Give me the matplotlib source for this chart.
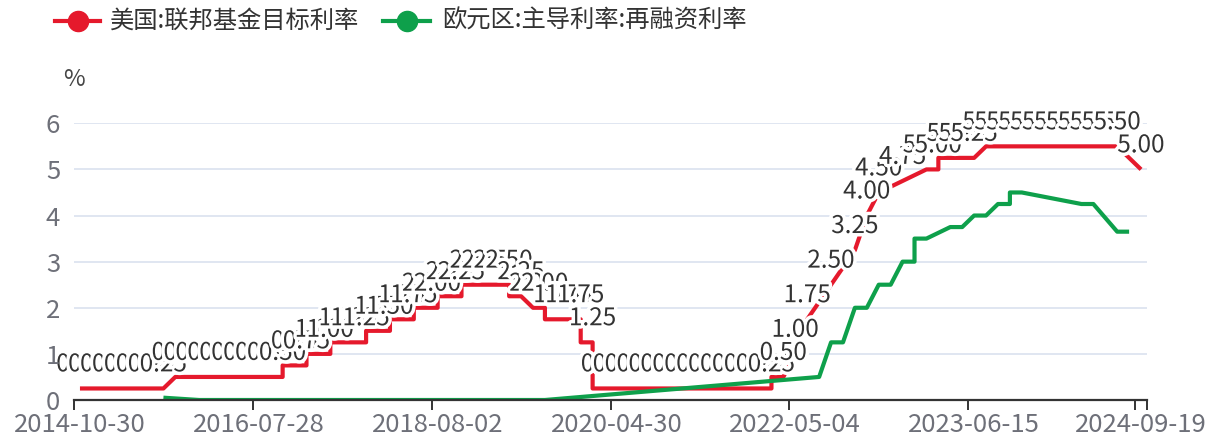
import matplotlib.pyplot as plt
import matplotlib.patheffects as pe
from matplotlib.lines import Line2D

plt.rcParams['font.family'] = ['Noto Sans CJK SC', 'DejaVu Sans']

W, H = 1213, 437

# category axis: 90 release dates, only some of them labelled
n_cat = 90
tick_idx = [0, 15, 30, 45, 60, 75, 89]
tick_labels = ['2014-10-30', '2016-07-28', '2018-08-02', '2020-04-30',
               '2022-05-04', '2023-06-15', '2024-09-19']

# 美国:联邦基金目标利率 (category position, rate)
us_pos = [0, 1, 2, 3, 4, 5, 6, 7,
          8, 9, 10, 11, 12, 13, 14, 15, 16, 17,
          17, 18, 19,
          19, 20, 21,
          21, 22, 23, 24,
          24, 25, 26,
          26, 27, 28,
          28, 29, 30,
          30, 31, 32,
          32, 33, 34, 35, 36,
          36, 37,
          38, 39,
          39, 40, 41, 42,
          42, 43,
          43, 44, 45, 46, 47, 48, 49, 50, 51, 52, 53, 54, 55, 56, 57, 58,
          58, 59,
          60,
          61,
          63,
          65,
          66,
          67,
          69,
          71, 72,
          72, 73, 74, 75,
          76, 77, 78, 79, 80, 81, 82, 83, 84, 85, 86, 87,
          89]
us_rate = [0.25, 0.25, 0.25, 0.25, 0.25, 0.25, 0.25, 0.25,
           0.5, 0.5, 0.5, 0.5, 0.5, 0.5, 0.5, 0.5, 0.5, 0.5,
           0.75, 0.75, 0.75,
           1.0, 1.0, 1.0,
           1.25, 1.25, 1.25, 1.25,
           1.5, 1.5, 1.5,
           1.75, 1.75, 1.75,
           2.0, 2.0, 2.0,
           2.25, 2.25, 2.25,
           2.5, 2.5, 2.5, 2.5, 2.5,
           2.25, 2.25,
           2.0, 2.0,
           1.75, 1.75, 1.75, 1.75,
           1.25, 1.25,
           0.25, 0.25, 0.25, 0.25, 0.25, 0.25, 0.25, 0.25, 0.25, 0.25, 0.25,
           0.25, 0.25, 0.25, 0.25, 0.25,
           0.5, 0.5,
           1.0,
           1.75,
           2.5,
           3.25,
           4.0,
           4.5,
           4.75,
           5.0, 5.0,
           5.25, 5.25, 5.25, 5.25,
           5.5, 5.5, 5.5, 5.5, 5.5, 5.5, 5.5, 5.5, 5.5, 5.5, 5.5, 5.5,
           5.0]

# 欧元区:主导利率:再融资利率
ez_pos = [7, 10, 39, 62, 63, 64, 65, 66, 67, 68, 69, 70, 70, 71,
          73, 74, 75, 76, 77, 78, 78, 79, 84, 85, 87, 88]
ez_rate = [0.05, 0.0, 0.0, 0.5, 1.25, 1.25, 2.0, 2.0, 2.5, 2.5, 3.0, 3.0,
           3.5, 3.5, 3.75, 3.75, 4.0, 4.0, 4.25, 4.25, 4.5, 4.5, 4.25,
           4.25, 3.65, 3.65]

us_name = '美国:联邦基金目标利率'
ez_name = '欧元区:主导利率:再融资利率'
red = '#e5192c'
green = '#0ea04b'
axis_grey = '#6e7079'

fig = plt.figure(figsize=(W / 100, H / 100), dpi=100)
ax = fig.add_axes([74 / W, 37 / H, (1147 - 74) / W, (400 - 123.3) / H])

ax.plot(us_pos, us_rate, color=red, lw=3, solid_joinstyle='round',
        solid_capstyle='butt', zorder=3)
ax.plot(ez_pos, ez_rate, color=green, lw=3, solid_joinstyle='round',
        solid_capstyle='butt', zorder=4)

# value labels on the US series, one per release date
halo = [pe.withStroke(linewidth=5, foreground='white')]
for k, (x, v) in enumerate(zip(us_pos, us_rate)):
    if k > 0 and x == us_pos[k - 1]:
        continue
    ax.annotate(f'{v:.2f}', (x, v), xytext=(0, 8), textcoords='offset points',
                ha='center', va='bottom', fontsize=17.5, color='#333333',
                path_effects=halo, zorder=6, annotation_clip=False)

ax.set_xlim(-0.5, n_cat - 0.5)
ax.set_ylim(0, 6)
ax.set_yticks(range(7))
ax.set_yticklabels([str(v) for v in range(7)])
ax.tick_params(axis='y', length=0, pad=10, labelsize=18.5, labelcolor=axis_grey)
ax.yaxis.set_zorder(7)
for v in range(1, 7):
    ax.axhline(v, color='#e0e6f1', lw=1.4, zorder=1)

bounds = [i - 0.5 for i in tick_idx] + [n_cat - 0.5]
ax.set_xticks(bounds)
ax.set_xticklabels([''] * len(bounds))
ax.tick_params(axis='x', which='major', length=7, width=1.4, color='#333333')
ax.set_xticks(tick_idx, minor=True)
ax.set_xticklabels(tick_labels, minor=True)
ax.tick_params(axis='x', which='minor', length=0, pad=9, labelsize=18.5,
               labelcolor=axis_grey)

for side in ['top', 'right', 'left']:
    ax.spines[side].set_visible(False)
ax.spines['bottom'].set_color('#333333')
ax.spines['bottom'].set_linewidth(1.6)
ax.spines['bottom'].set_zorder(5)

fig.text(74 / W, 1 - 80 / H, '%', ha='center', va='center', fontsize=17,
         color='#464646')

# legend along the top edge
for x0, x1, xc, xt, col, name in [(55, 100, 78, 110, red, us_name),
                                  (383, 430, 407, 442, green, ez_name)]:
    yl = 1 - 21 / H
    fig.add_artist(Line2D([x0 / W, x1 / W], [yl, yl], color=col, lw=3,
                          transform=fig.transFigure))
    fig.add_artist(Line2D([xc / W], [yl], marker='o', ms=14.5, color=col,
                          transform=fig.transFigure))
    fig.text(xt / W, yl, name, ha='left', va='center', fontsize=17.5,
             color='#333333')

fig.savefig('out.png', dpi=100)
